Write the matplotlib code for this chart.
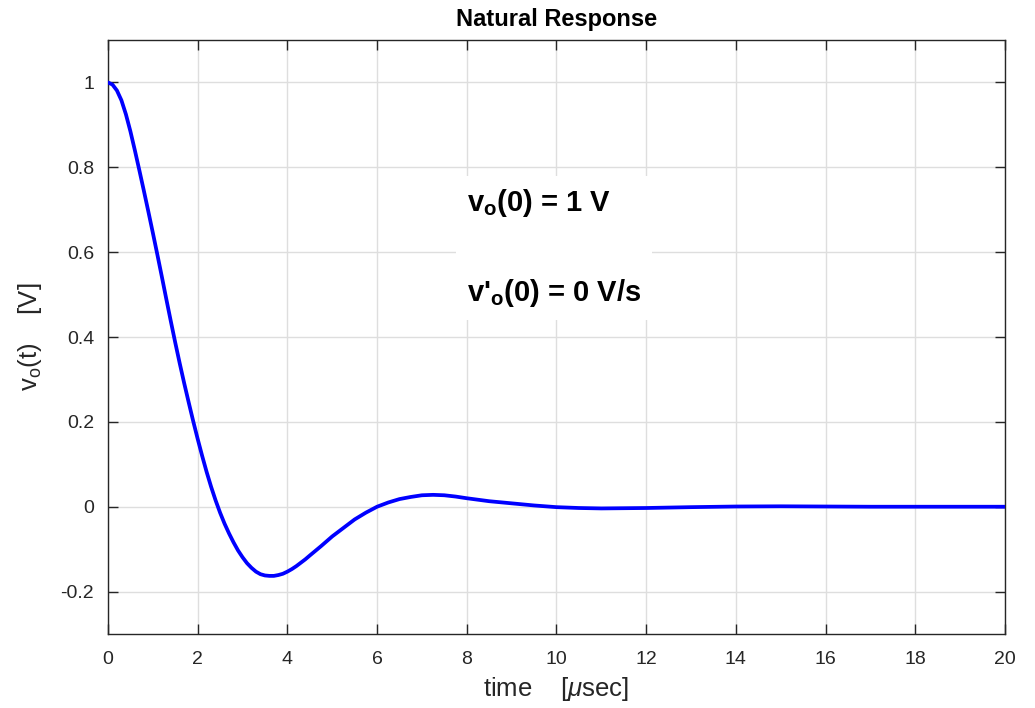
import matplotlib
matplotlib.use('Agg')
import matplotlib.pyplot as plt

# values
t_us = [0.0, 0.1, 0.2, 0.3, 0.4, 0.5, 0.6, 0.7, 0.8, 0.9,
        1.0, 1.1, 1.2, 1.3, 1.4, 1.5, 1.6, 1.7, 1.8, 1.9,
        2.0, 2.1, 2.2, 2.3, 2.4, 2.5, 2.6, 2.7, 2.8, 2.9,
        3.0, 3.1, 3.2, 3.3, 3.4, 3.5, 3.6, 3.7, 3.8, 3.9,
        4.0, 4.1, 4.2, 4.3, 4.4, 4.5, 4.75, 5.0, 5.25, 5.5,
        5.75, 6.0, 6.25, 6.5, 6.75, 7.0, 7.25, 7.5, 7.75, 8.0,
        8.5, 9.0, 9.5, 10.0, 10.5, 11.0, 11.5, 12.0, 13.0, 14.0,
        15.0, 16.0, 17.0, 18.0, 19.0, 20.0]
v_o = [1.000, 0.995, 0.981, 0.958, 0.925, 0.885, 0.840, 0.793, 0.745, 0.696,
       0.646, 0.595, 0.543, 0.490, 0.438, 0.387, 0.338, 0.291, 0.246, 0.202,
       0.160, 0.120, 0.082, 0.047, 0.015, -0.014, -0.040, -0.063, -0.084, -0.103,
       -0.119, -0.133, -0.144, -0.153, -0.159, -0.162, -0.163, -0.163, -0.161, -0.158,
       -0.153, -0.147, -0.140, -0.132, -0.124, -0.115, -0.093, -0.070, -0.050, -0.030,
       -0.014, 0.000, 0.010, 0.018, 0.023, 0.027, 0.028, 0.027, 0.024, 0.020,
       0.013, 0.008, 0.003, -0.001, -0.003, -0.004, -0.0035, -0.003, -0.001, 0.0005,
       0.001, 0.0005, 0.0, 0.0, 0.0, 0.0]

x_ticks = list(range(0, 21, 2))
y_ticks = [-0.2, 0, 0.2, 0.4, 0.6, 0.8, 1]
y_tick_labels = ['-0.2', '0', '0.2', '0.4', '0.6', '0.8', '1']

plt.rcParams['font.family'] = ['Liberation Sans', 'DejaVu Sans']
plt.rcParams['mathtext.fontset'] = 'custom'
plt.rcParams['mathtext.rm'] = 'Liberation Sans'
plt.rcParams['mathtext.it'] = 'Liberation Sans:italic'
plt.rcParams['mathtext.bf'] = 'Liberation Sans:bold'

dark = '#262626'
fig = plt.figure(figsize=(10.35, 7.08), dpi=100)
ax = fig.add_axes([0.1043, 0.1045, 0.8667, 0.839])

ax.plot(t_us, v_o, color='#0000ff', linewidth=2.7, zorder=3,
        solid_joinstyle='round', solid_capstyle='round')

ax.set_xlim(0, 20)
ax.set_ylim(-0.3, 1.1)
ax.set_xticks(x_ticks)
ax.set_yticks(y_ticks)
ax.set_yticklabels(y_tick_labels)
ax.grid(True, color='#dedede', linewidth=1.0)
ax.set_axisbelow(True)
ax.tick_params(direction='in', length=7, width=1, colors=dark, labelsize=14,
               top=True, right=True)
ax.tick_params(axis='x', pad=12)
ax.tick_params(axis='y', pad=10)
for s in ax.spines.values():
    s.set_color(dark)
    s.set_linewidth(1.0)

ax.set_title('Natural Response', fontsize=17, fontweight='bold', color='black', pad=10)
ax.set_xlabel('time    [$\\mu$sec]', fontsize=18.5, color=dark, labelpad=5)
ax.set_ylabel('v$_\\mathregular{o}$(t)    [V]', fontsize=18.5, color=dark, labelpad=12)

ax.text(8.0, 0.61, "v$_\\mathbf{o}$(0) = 1 V\n\nv'$_\\mathbf{o}$(0) = 0 V/s",
        fontsize=21, fontweight='bold', color='black', va='center', ha='left',
        linespacing=1.65, zorder=2,
        bbox=dict(facecolor='white', edgecolor='none', pad=8))

fig.savefig('out.png', dpi=100)
